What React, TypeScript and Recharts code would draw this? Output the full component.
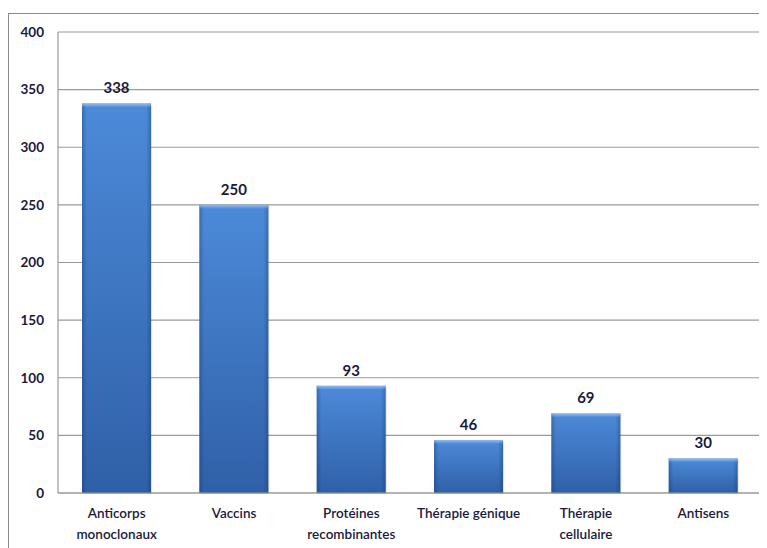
import { BarChart, Bar, XAxis, YAxis, CartesianGrid, LabelList } from "recharts";

const categories = [
    "Anticorps monoclonaux",
    "Vaccins",
    "Protéines recombinantes",
    "Thérapie génique",
    "Thérapie cellulaire",
    "Antisens",
];
const labelLines = [
    ["Anticorps", "monoclonaux"],
    ["Vaccins"],
    ["Protéines", "recombinantes"],
    ["Thérapie génique"],
    ["Thérapie", "cellulaire"],
    ["Antisens"],
];
const counts = [338, 250, 93, 46, 69, 30];
const yTicks = [0, 50, 100, 150, 200, 250, 300, 350, 400];

const data = categories.map((name, i) => ({ name, count: counts[i] }));

const FONT = "Lato, 'Open Sans', sans-serif";

const CategoryTick = (props: any) => {
    const { x, y, payload } = props;
    const lines = labelLines[payload.index] ?? [payload.value];
    return (
        <text x={x} y={y} textAnchor="middle" fill="#1a1a3a" fontFamily={FONT} fontSize={13.5} fontWeight={600}>
            {lines.map((l: string, i: number) => (
                <tspan key={i} x={x} dy={i === 0 ? 17 : 21}>{l}</tspan>
            ))}
        </text>
    );
};

// bevelled bar: vertical gradient body with darker sides and a light top edge
const BevelBar = (props: any) => {
    const { x, y, width, height } = props;
    if (!height || height <= 0) return null;
    return (
        <g>
            <rect x={x + 1} y={y + 1} width={width} height={height} fill="#000" opacity={0.12} />
            <rect x={x} y={y} width={width} height={height} fill="url(#barFill)" />
            <rect x={x} y={y} width={width} height={height} fill="url(#barSide)" />
            <rect x={x} y={y} width={width} height={4} fill="url(#barTop)" />
        </g>
    );
};

const App = () => (
    <div style={{
        marginTop: 5,
        width: 758,
        height: 534,
        borderTop: "1px solid #8c8c8c",
        borderLeft: "1px solid #8c8c8c",
        background: "#fff",
    }}>
        <BarChart width={758} height={534} data={data}
            margin={{ top: 18, right: 5, left: 9, bottom: 5 }}
            barSize={69}>
            <defs>
                <linearGradient id="barFill" x1="0" y1="0" x2="0" y2="1">
                    <stop offset="0%" stopColor="#4c8ad9" />
                    <stop offset="100%" stopColor="#2f60a7" />
                </linearGradient>
                <linearGradient id="barSide" x1="0" y1="0" x2="1" y2="0">
                    <stop offset="0%" stopColor="#0a2a5a" stopOpacity={0.3} />
                    <stop offset="7%" stopColor="#0a2a5a" stopOpacity={0} />
                    <stop offset="93%" stopColor="#0a2a5a" stopOpacity={0} />
                    <stop offset="100%" stopColor="#0a2a5a" stopOpacity={0.3} />
                </linearGradient>
                <linearGradient id="barTop" x1="0" y1="0" x2="0" y2="1">
                    <stop offset="0%" stopColor="#9cc2f0" stopOpacity={0.9} />
                    <stop offset="100%" stopColor="#9cc2f0" stopOpacity={0} />
                </linearGradient>
            </defs>
            <CartesianGrid vertical={false} stroke="#9a9a9a" strokeWidth={1.2} />
            <XAxis dataKey="name" interval={0} height={50} tickLine={false}
                axisLine={{ stroke: "#9a9a9a", strokeWidth: 1.2 }} tick={<CategoryTick />} />
            <YAxis domain={[0, 400]} ticks={yTicks} width={40} tickLine={false}
                axisLine={{ stroke: "#9a9a9a", strokeWidth: 1.2 }} tickMargin={8}
                tick={{ fill: "#1a1a3a", fontFamily: FONT, fontSize: 13.5, fontWeight: 700 }} />
            <Bar dataKey="count" shape={<BevelBar />} isAnimationActive={false}>
                <LabelList dataKey="count" position="top" offset={10}
                    style={{ fill: "#1a1a3a", fontFamily: FONT, fontSize: 15, fontWeight: 700 }} />
            </Bar>
        </BarChart>
    </div>
);

export default App;
